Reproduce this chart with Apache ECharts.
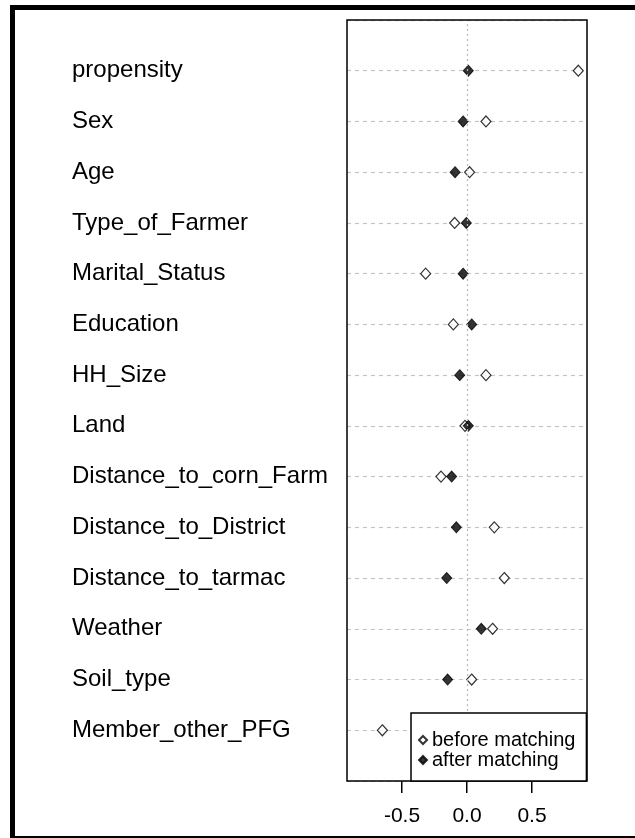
<!DOCTYPE html>
<html>
<head>
<meta charset="utf-8">
<script src="https://cdn.jsdelivr.net/npm/echarts@6/dist/echarts.min.js"></script>
<style>
  html, body { margin: 0; padding: 0; background: #fff; }
  #chart { width: 635px; height: 838px; }
</style>
</head>
<body>
<div id="chart"></div>
<script>
// covariates, top to bottom
var covariates = ['propensity', 'Sex', 'Age', 'Type_of_Farmer', 'Marital_Status', 'Education',
  'HH_Size', 'Land', 'Distance_to_corn_Farm', 'Distance_to_District', 'Distance_to_tarmac',
  'Weather', 'Soil_type', 'Member_other_PFG'];
// standardized differences
var beforeMatching = [0.856, 0.146, 0.02, -0.095, -0.318, -0.105, 0.146, -0.015, -0.2, 0.21, 0.287, 0.197, 0.036, -0.651];
// last one is hidden under the legend
var afterMatching = [0.01, -0.03, -0.092, -0.005, -0.03, 0.036, -0.056, 0.01, -0.118, -0.082, -0.156, 0.11, -0.149, null];
var xTicks = [-0.5, 0, 0.5];

var n = covariates.length;
var chart = echarts.init(document.getElementById('chart'));

// row 1 sits at the top, so y = n - i
function toPoints(vals) {
  return vals.map(function (v, i) { return v == null ? null : [v, n - i]; });
}

var frame = [
  { id: 'box', type: 'rect', z: 10, shape: { x: 347, y: 20, width: 240, height: 761 },
    style: { fill: 'none', stroke: '#000', lineWidth: 1.5 } },
  { id: 'fTop', type: 'rect', z: 10, shape: { x: 10, y: 5, width: 625, height: 5 }, style: { fill: '#000' } },
  { id: 'fLeft', type: 'rect', z: 10, shape: { x: 10, y: 5, width: 5, height: 833 }, style: { fill: '#000' } },
  { id: 'fBottom', type: 'rect', z: 10, shape: { x: 10, y: 836, width: 625, height: 2 }, style: { fill: '#000' } }
];

var option = {
  animation: false,
  backgroundColor: '#fff',
  textStyle: { fontFamily: 'Liberation Sans, Arial, sans-serif', color: '#000' },
  grid: { left: 347, right: 48, top: 20, bottom: 57 },
  xAxis: {
    type: 'value',
    min: -0.923,
    max: 0.923,
    axisLine: { show: false },
    splitLine: { show: false },
    axisTick: { show: false },
    axisLabel: {
      customValues: xTicks, margin: 25, fontSize: 21, color: '#000',
      formatter: function (v) { return v.toFixed(1); }
    }
  },
  yAxis: {
    type: 'value',
    min: 0,
    max: n + 1,
    interval: 1,
    axisLine: { show: false },
    axisTick: { show: false },
    splitLine: { show: true, lineStyle: { color: '#c4c4c4', type: [4, 4], width: 1.2 } },
    axisLabel: {
      margin: 275, align: 'left', fontSize: 24, color: '#000', padding: [6, 0, 0, 0],
      formatter: function (v) { return covariates[n - v] || ''; }
    }
  },
  legend: {
    left: 411,
    top: 713,
    z: 20,
    orient: 'vertical',
    backgroundColor: '#fff',
    borderColor: '#000',
    borderWidth: 1.5,
    borderRadius: 0,
    padding: [17, 11, 11, 7],
    itemGap: 0,
    itemWidth: 8,
    itemHeight: 8,
    textStyle: { fontSize: 20, color: '#000', lineHeight: 20 },
    data: ['before matching', 'after matching']
  },
  series: [
    {
      name: 'before matching',
      type: 'scatter',
      symbol: 'diamond',
      symbolSize: [10, 11],
      itemStyle: { color: '#fff', borderColor: '#000', borderWidth: 1.2 },
      data: toPoints(beforeMatching),
      markLine: {
        silent: true,
        symbol: 'none',
        label: { show: false },
        lineStyle: { color: '#b8b8b8', type: [2, 3], width: 1.2 },
        data: [{ xAxis: 0 }]
      }
    },
    {
      name: 'after matching',
      type: 'scatter',
      symbol: 'diamond',
      symbolSize: [10, 11],
      itemStyle: { color: '#000', borderColor: '#000', borderWidth: 1 },
      data: toPoints(afterMatching)
    }
  ],
  graphic: { elements: frame }
};

chart.setOption(option);

// axis ticks hanging under the box, x taken from the chart's own scale
var tickMarks = xTicks.map(function (v, k) {
  var px = chart.convertToPixel({ xAxisIndex: 0 }, v);
  if (typeof px !== 'number' || isNaN(px)) {
    px = 347 + (v - option.xAxis.min) / (option.xAxis.max - option.xAxis.min) * 240;
  }
  return {
    id: 'tick' + k, type: 'rect', z: 100,
    shape: { x: Math.round(px) - 1, y: 781, width: 1.5, height: 12 },
    style: { fill: '#000' }
  };
});
chart.setOption({ graphic: { elements: frame.concat(tickMarks) } });
</script>
</body>
</html>
